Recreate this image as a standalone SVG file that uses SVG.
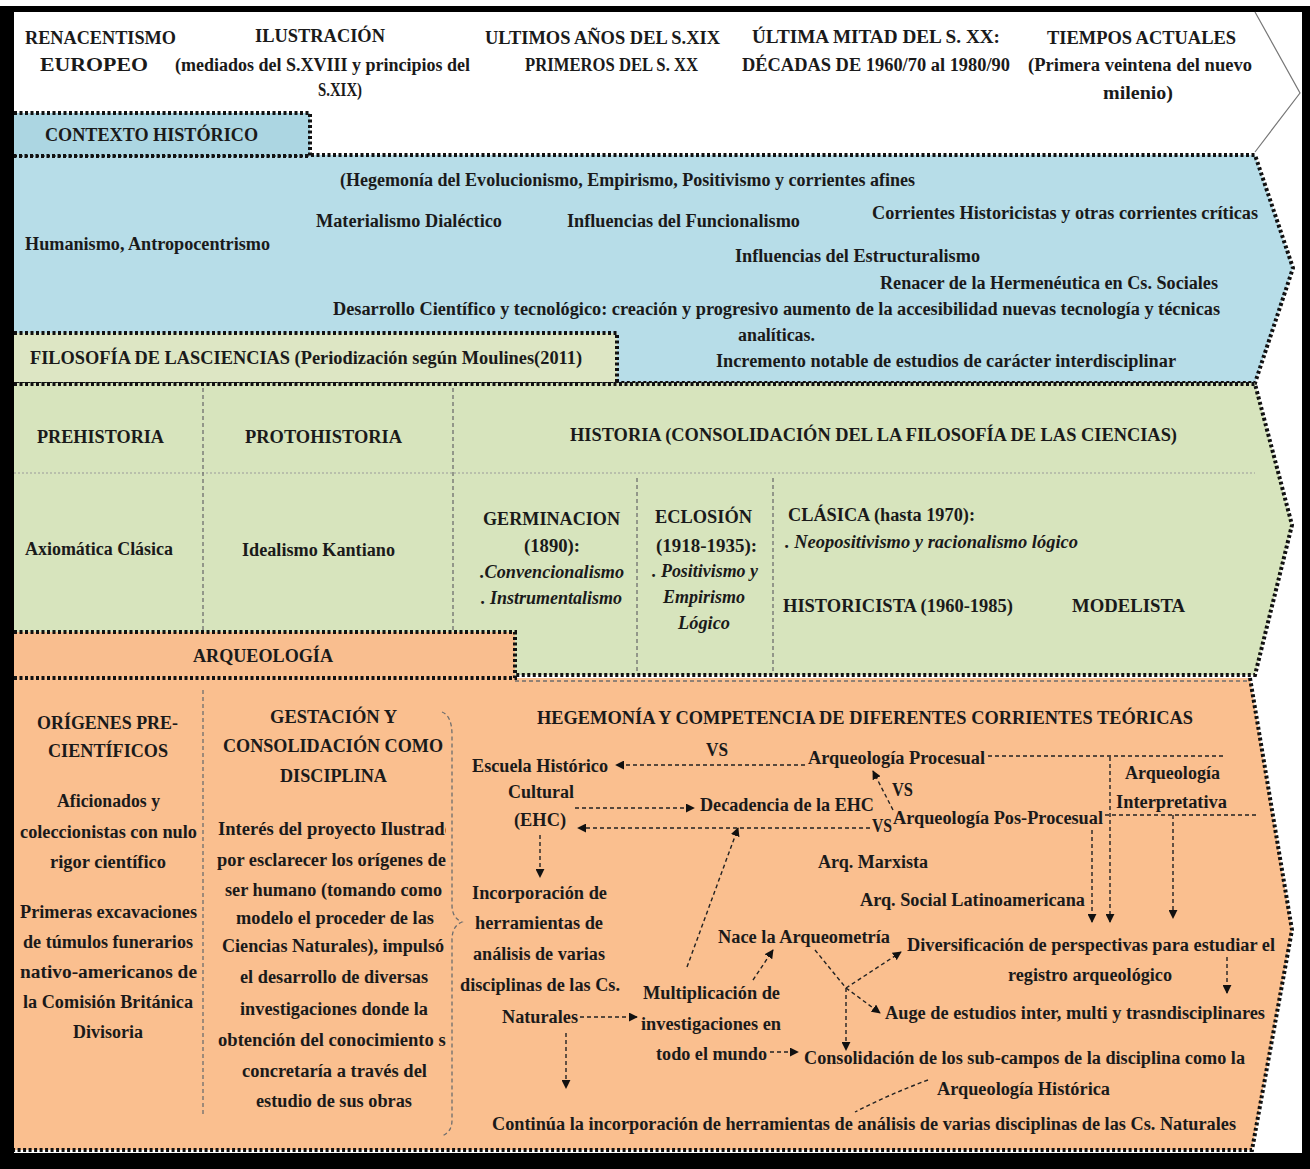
<svg xmlns="http://www.w3.org/2000/svg" width="1310" height="1169" viewBox="0 0 1310 1169">
<style>
text{font-family:"Liberation Serif","Times New Roman",serif;font-weight:bold;font-size:18px;fill:#1a1a1a}
.i{font-style:italic;font-weight:bold}
.dot{fill:none;stroke:#111;stroke-width:4;stroke-dasharray:3 2.5}
.gd{fill:none;stroke:#6e6e6e;stroke-width:1.3;stroke-dasharray:4 3}
.gl{fill:none;stroke:#9a9a9a;stroke-width:1;stroke-dasharray:2 2}
.cn{fill:none;stroke:#222;stroke-width:1.4;stroke-dasharray:4 3}
</style>
<defs>
<marker id="ah" viewBox="0 0 10 10" refX="9" refY="5" markerWidth="9" markerHeight="9" markerUnits="userSpaceOnUse" orient="auto"><path d="M0,0 L10,5 L0,10 z" fill="#111"/></marker>
<clipPath id="gclip"><rect x="205" y="800" width="241" height="320"/></clipPath>
</defs>
<rect x="0" y="6" width="1310" height="1163" fill="#000"/>
<rect x="14" y="12" width="1288" height="1141" fill="#fff"/>

<g id="header">
<path d="M1255,12 L1300,93 L1255,152" fill="none" stroke="#777" stroke-width="1.2"/>
<text x="25" y="44" textLength="151" lengthAdjust="spacingAndGlyphs">RENACENTISMO</text>
<text x="40" y="71" textLength="108" lengthAdjust="spacingAndGlyphs">EUROPEO</text>
<text x="255" y="42" textLength="130" lengthAdjust="spacingAndGlyphs">ILUSTRACIÓN</text>
<text x="175" y="71" textLength="295" lengthAdjust="spacingAndGlyphs">(mediados del S.XVIII y principios del</text>
<text x="318" y="96" textLength="44" lengthAdjust="spacingAndGlyphs">S.XIX)</text>
<text x="485" y="44" textLength="235" lengthAdjust="spacingAndGlyphs">ULTIMOS AÑOS DEL S.XIX</text>
<text x="525" y="71" textLength="173" lengthAdjust="spacingAndGlyphs">PRIMEROS DEL S. XX</text>
<text x="752" y="43" textLength="248" lengthAdjust="spacingAndGlyphs">ÚLTIMA MITAD DEL  S. XX:</text>
<text x="742" y="71" textLength="268" lengthAdjust="spacingAndGlyphs">DÉCADAS DE 1960/70 al 1980/90</text>
<text x="1047" y="44" textLength="189" lengthAdjust="spacingAndGlyphs">TIEMPOS ACTUALES</text>
<text x="1028" y="71" textLength="224" lengthAdjust="spacingAndGlyphs">(Primera veintena del nuevo</text>
<text x="1103" y="99" textLength="70" lengthAdjust="spacingAndGlyphs">milenio)</text>
</g>

<g id="contexto-band">
<path d="M14,155 H1255 L1293,268 L1255,383 H14 Z" fill="#b7dde8"/>
<path class="dot" d="M14,155 H1255 L1293,268 L1255,383 H14"/>
<text x="340" y="186" textLength="575" lengthAdjust="spacingAndGlyphs">(Hegemonía del  Evolucionismo, Empirismo, Positivismo y corrientes afines</text>
<text x="316" y="227" textLength="186" lengthAdjust="spacingAndGlyphs">Materialismo Dialéctico</text>
<text x="567" y="227" textLength="233" lengthAdjust="spacingAndGlyphs">Influencias del Funcionalismo</text>
<text x="872" y="219" textLength="386" lengthAdjust="spacingAndGlyphs">Corrientes Historicistas y otras corrientes críticas</text>
<text x="25" y="250" textLength="245" lengthAdjust="spacingAndGlyphs">Humanismo, Antropocentrismo</text>
<text x="735" y="262" textLength="245" lengthAdjust="spacingAndGlyphs">Influencias del Estructuralismo</text>
<text x="880" y="289" textLength="338" lengthAdjust="spacingAndGlyphs">Renacer de la Hermenéutica en Cs. Sociales</text>
<text x="333" y="315" textLength="887" lengthAdjust="spacingAndGlyphs">Desarrollo Científico y tecnológico: creación y progresivo aumento de la accesibilidad nuevas tecnología y técnicas</text>
<text x="738" y="341" textLength="77" lengthAdjust="spacingAndGlyphs">analíticas.</text>
<text x="716" y="367" textLength="460" lengthAdjust="spacingAndGlyphs">Incremento notable de estudios de carácter interdisciplinar</text>
</g>

<g id="contexto-tab">
<rect x="14" y="113" width="296" height="42" fill="#acd6e2"/>
<path class="dot" d="M14,113 H310 V156 H14"/>
<text x="45" y="141" textLength="213" lengthAdjust="spacingAndGlyphs">CONTEXTO HISTÓRICO</text>
</g>

<g id="filosofia-band">
<path d="M14,383 H1255 L1292,525 L1255,675 H14 Z" fill="#d7e4bd"/>
<path class="gl" d="M14,473 H1255"/>
<path class="gd" d="M203,388 V632 M453,388 V632 M637,478 V672 M773,478 V672"/>
<path class="dot" d="M14,384 H1255 L1292,525 L1255,675 H14"/>
<text x="37" y="443" textLength="127" lengthAdjust="spacingAndGlyphs">PREHISTORIA</text>
<text x="245" y="443" textLength="157" lengthAdjust="spacingAndGlyphs">PROTOHISTORIA</text>
<text x="570" y="441" textLength="607" lengthAdjust="spacingAndGlyphs">HISTORIA (CONSOLIDACIÓN DEL LA FILOSOFÍA DE LAS CIENCIAS)</text>
<text x="25" y="555" textLength="148" lengthAdjust="spacingAndGlyphs">Axiomática Clásica</text>
<text x="242" y="556" textLength="153" lengthAdjust="spacingAndGlyphs">Idealismo Kantiano</text>
<text x="483" y="525" textLength="137" lengthAdjust="spacingAndGlyphs">GERMINACION</text>
<text x="524" y="552" textLength="56" lengthAdjust="spacingAndGlyphs">(1890):</text>
<text class="i" x="480" y="578" textLength="144" lengthAdjust="spacingAndGlyphs">.Convencionalismo</text>
<text class="i" x="481" y="604" textLength="141" lengthAdjust="spacingAndGlyphs">. Instrumentalismo</text>
<text x="655" y="523" textLength="97" lengthAdjust="spacingAndGlyphs">ECLOSIÓN</text>
<text x="656" y="552" textLength="101" lengthAdjust="spacingAndGlyphs">(1918-1935):</text>
<text class="i" x="652" y="577" textLength="106" lengthAdjust="spacingAndGlyphs">. Positivismo y</text>
<text class="i" x="663" y="603" textLength="82" lengthAdjust="spacingAndGlyphs">Empirismo</text>
<text class="i" x="678" y="629" textLength="52" lengthAdjust="spacingAndGlyphs">Lógico</text>
<text x="788" y="521" textLength="187" lengthAdjust="spacingAndGlyphs">CLÁSICA (hasta 1970):</text>
<text class="i" x="785" y="548" textLength="293" lengthAdjust="spacingAndGlyphs">. Neopositivismo y racionalismo lógico</text>
<text x="783" y="612" textLength="230" lengthAdjust="spacingAndGlyphs">HISTORICISTA (1960-1985)</text>
<text x="1072" y="612" textLength="113" lengthAdjust="spacingAndGlyphs">MODELISTA</text>
</g>

<g id="filosofia-tab">
<rect x="14" y="333" width="603" height="49" fill="#dde6c4"/>
<path class="dot" d="M14,333 H617 V383"/>
<text x="30" y="364" textLength="552" lengthAdjust="spacingAndGlyphs">FILOSOFÍA DE LASCIENCIAS (Periodización según Moulines(2011)</text>
</g>

<g id="arqueologia-band">
<path d="M14,678 H1250 L1292,930 L1252,1150 H14 Z" fill="#fabf8f"/>
<path class="gd" d="M515,681 H1250"/>
<path class="gd" d="M203,690 V1115"/>
<path class="gd" d="M442,712 Q452,716 452,735 V905 Q452,918 462,922 Q452,926 452,940 V1120 Q452,1132 442,1136"/>
<path class="dot" d="M1250,678 L1292,930 L1252,1150 H14"/>
</g>

<g id="arqueologia-tab">
<rect x="14" y="632" width="501" height="46" fill="#f9be8f"/>
<path class="dot" d="M14,632 H515 V678 H14"/>
<text x="193" y="662" textLength="140" lengthAdjust="spacingAndGlyphs">ARQUEOLOGÍA</text>
</g>

<g id="origenes">
<text x="37" y="729" textLength="141" lengthAdjust="spacingAndGlyphs">ORÍGENES PRE-</text>
<text x="48" y="757" textLength="120" lengthAdjust="spacingAndGlyphs">CIENTÍFICOS</text>
<text x="57" y="807" textLength="103" lengthAdjust="spacingAndGlyphs">Aficionados y</text>
<text x="20" y="838" textLength="177" lengthAdjust="spacingAndGlyphs">coleccionistas con nulo</text>
<text x="50" y="868" textLength="116" lengthAdjust="spacingAndGlyphs">rigor científico</text>
<text x="20" y="918" textLength="177" lengthAdjust="spacingAndGlyphs">Primeras excavaciones</text>
<text x="23" y="948" textLength="170" lengthAdjust="spacingAndGlyphs">de túmulos funerarios</text>
<text x="20" y="978" textLength="177" lengthAdjust="spacingAndGlyphs">nativo-americanos   de</text>
<text x="23" y="1008" textLength="170" lengthAdjust="spacingAndGlyphs">la Comisión Británica</text>
<text x="73" y="1038" textLength="70" lengthAdjust="spacingAndGlyphs">Divisoria</text>
</g>

<g id="gestacion">
<text x="270" y="723" textLength="127" lengthAdjust="spacingAndGlyphs">GESTACIÓN Y</text>
<text x="223" y="752" textLength="220" lengthAdjust="spacingAndGlyphs">CONSOLIDACIÓN COMO</text>
<text x="280" y="782" textLength="107" lengthAdjust="spacingAndGlyphs">DISCIPLINA</text>
<g clip-path="url(#gclip)">
<text x="218" y="835" textLength="236" lengthAdjust="spacingAndGlyphs">Interés del proyecto Ilustrado</text>
<text x="217" y="866" textLength="234" lengthAdjust="spacingAndGlyphs">por esclarecer los orígenes del</text>
<text x="225" y="896" textLength="217" lengthAdjust="spacingAndGlyphs">ser humano (tomando como</text>
<text x="236" y="924" textLength="198" lengthAdjust="spacingAndGlyphs">modelo el proceder de las</text>
<text x="222" y="952" textLength="222" lengthAdjust="spacingAndGlyphs">Ciencias Naturales), impulsó</text>
<text x="240" y="983" textLength="188" lengthAdjust="spacingAndGlyphs">el desarrollo de diversas</text>
<text x="240" y="1015" textLength="188" lengthAdjust="spacingAndGlyphs">investigaciones donde la</text>
<text x="218" y="1046" textLength="236" lengthAdjust="spacingAndGlyphs">obtención del conocimiento se</text>
<text x="242" y="1077" textLength="185" lengthAdjust="spacingAndGlyphs">concretaría a través del</text>
<text x="256" y="1107" textLength="156" lengthAdjust="spacingAndGlyphs">estudio de sus obras</text>
</g>
</g>

<g id="hegemonia">
<text x="537" y="724" textLength="656" lengthAdjust="spacingAndGlyphs">HEGEMONÍA Y COMPETENCIA DE DIFERENTES CORRIENTES TEÓRICAS</text>
</g>
<g id="ehc">
<text x="472" y="772" textLength="136" lengthAdjust="spacingAndGlyphs">Escuela Histórico</text>
<text x="508" y="798" textLength="66" lengthAdjust="spacingAndGlyphs">Cultural</text>
<text x="514" y="826" textLength="52" lengthAdjust="spacingAndGlyphs">(EHC)</text>
</g>
<g id="procesual"><text x="808" y="764" textLength="177" lengthAdjust="spacingAndGlyphs">Arqueología Procesual</text></g>
<g id="interpretativa">
<text x="1125" y="779" textLength="95" lengthAdjust="spacingAndGlyphs">Arqueología</text>
<text x="1116" y="808" textLength="111" lengthAdjust="spacingAndGlyphs">Interpretativa</text>
</g>
<g id="decadencia"><text x="700" y="811" textLength="174" lengthAdjust="spacingAndGlyphs">Decadencia de la EHC</text></g>
<g id="posprocesual"><text x="893" y="824" textLength="210" lengthAdjust="spacingAndGlyphs">Arqueología Pos-Procesual</text></g>
<g id="marxista"><text x="818" y="868" textLength="110" lengthAdjust="spacingAndGlyphs">Arq. Marxista</text></g>
<g id="social"><text x="860" y="906" textLength="225" lengthAdjust="spacingAndGlyphs">Arq. Social Latinoamericana</text></g>
<g id="incorporacion">
<text x="472" y="899" textLength="135" lengthAdjust="spacingAndGlyphs">Incorporación de</text>
<text x="475" y="929" textLength="128" lengthAdjust="spacingAndGlyphs">herramientas de</text>
<text x="473" y="960" textLength="132" lengthAdjust="spacingAndGlyphs">análisis de varias</text>
<text x="460" y="991" textLength="160" lengthAdjust="spacingAndGlyphs">disciplinas de las Cs.</text>
<text x="502" y="1023" textLength="76" lengthAdjust="spacingAndGlyphs">Naturales</text>
</g>
<g id="arqueometria"><text x="718" y="943" textLength="172" lengthAdjust="spacingAndGlyphs">Nace la Arqueometría</text></g>
<g id="diversificacion">
<text x="907" y="951" textLength="368" lengthAdjust="spacingAndGlyphs">Diversificación de perspectivas para estudiar el</text>
<text x="1008" y="981" textLength="164" lengthAdjust="spacingAndGlyphs">registro arqueológico</text>
</g>
<g id="multiplicacion">
<text x="643" y="999" textLength="137" lengthAdjust="spacingAndGlyphs">Multiplicación de</text>
<text x="641" y="1030" textLength="140" lengthAdjust="spacingAndGlyphs">investigaciones en</text>
<text x="656" y="1060" textLength="111" lengthAdjust="spacingAndGlyphs">todo el mundo</text>
</g>
<g id="auge"><text x="885" y="1019" textLength="380" lengthAdjust="spacingAndGlyphs">Auge de estudios inter, multi y trasndisciplinares</text></g>
<g id="consolidacion">
<text x="804" y="1064" textLength="441" lengthAdjust="spacingAndGlyphs">Consolidación de los sub-campos de la disciplina como la</text>
<text x="937" y="1095" textLength="173" lengthAdjust="spacingAndGlyphs">Arqueología Histórica</text>
</g>
<g id="continua"><text x="492" y="1130" textLength="744" lengthAdjust="spacingAndGlyphs">Continúa la incorporación de herramientas de análisis de varias disciplinas de las Cs. Naturales</text></g>

<g id="connectors">
<path class="cn" d="M805,765 H616" marker-end="url(#ah)"/>
<text x="706" y="756" textLength="22" lengthAdjust="spacingAndGlyphs">VS</text>
<path class="cn" d="M988,756 H1225"/>
<path class="cn" d="M1110,757 V922" marker-end="url(#ah)"/>
<path class="cn" d="M1105,815 H1258"/>
<path class="cn" d="M1092,830 V922" marker-end="url(#ah)"/>
<path class="cn" d="M1173,815 V918" marker-end="url(#ah)"/>
<path class="cn" d="M893,810 L873,771" marker-end="url(#ah)"/>
<text x="892" y="796" textLength="21" lengthAdjust="spacingAndGlyphs">VS</text>
<path class="cn" d="M575,808 H694" marker-end="url(#ah)"/>
<path class="cn" d="M870,828 H578" marker-end="url(#ah)"/>
<text x="872" y="832" textLength="20" lengthAdjust="spacingAndGlyphs">VS</text>
<path class="cn" d="M687,967 L738,828" marker-end="url(#ah)"/>
<path class="cn" d="M540,835 V877" marker-end="url(#ah)"/>
<path class="cn" d="M580,1017 H637" marker-end="url(#ah)"/>
<path class="cn" d="M566,1033 V1088" marker-end="url(#ah)"/>
<path class="cn" d="M753,980 L773,950" marker-end="url(#ah)"/>
<path class="cn" d="M770,1052 H798" marker-end="url(#ah)"/>
<path class="cn" d="M815,950 L846,988"/>
<path class="cn" d="M846,988 L901,952" marker-end="url(#ah)"/>
<path class="cn" d="M846,988 L880,1013" marker-end="url(#ah)"/>
<path class="cn" d="M846,988 V1050" marker-end="url(#ah)"/>
<path class="cn" d="M1227,957 V993" marker-end="url(#ah)"/>
<path class="cn" d="M928,1080 Q890,1094 855,1112"/>
</g>
</svg>
